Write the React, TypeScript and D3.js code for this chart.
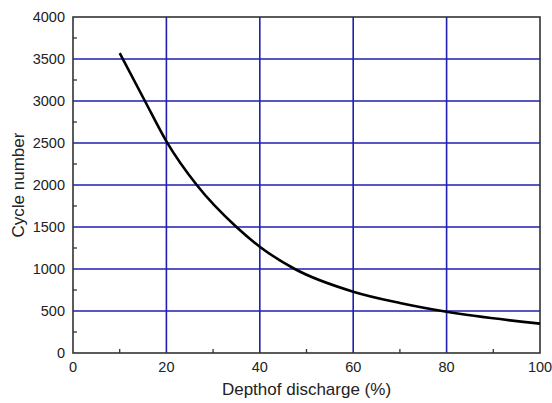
import React from "react";
import * as d3 from "d3";

const dod = [10, 15.4, 20, 26.5, 35, 40, 47.5, 60, 70, 80, 100];
const cycles = [3570, 3000, 2520, 2000, 1500, 1265, 1000, 730, 595, 490, 350];
const xTicks = [0, 20, 40, 60, 80, 100];
const yTicks = [0, 500, 1000, 1500, 2000, 2500, 3000, 3500, 4000];
const xMinor = [10, 30, 50, 70, 90];
const yMinor = [250, 750, 1250, 1750, 2250, 2750, 3250, 3750];

const W = 552, H = 403;
const m = { left: 73, right: 12, top: 17, bottom: 50 };

export default function App() {
  const x = d3.scaleLinear().domain([0, 100]).range([m.left, W - m.right]);
  const y = d3.scaleLinear().domain([0, 4000]).range([H - m.bottom, m.top]);
  const pts = dod.map((d, i) => [d, cycles[i]] as [number, number]);
  const line = d3.line<[number, number]>().x(d => x(d[0])).y(d => y(d[1])).curve(d3.curveMonotoneX);
  const grid = "#1f1fb0";
  const axis = "#333";
  const font = "Liberation Sans, Arial, sans-serif";
  return (
    <svg width={W} height={H} style={{ position: "absolute", left: 0, top: 0, background: "#fff" }} fontFamily={font}>
      {yTicks.filter(t => t > 0 && t < 4000).map(t => (
        <line key={"gy" + t} x1={x(0)} x2={x(100)} y1={y(t)} y2={y(t)} stroke={grid} strokeWidth={1.6} />
      ))}
      {xTicks.filter(t => t > 0 && t < 100).map(t => (
        <line key={"gx" + t} x1={x(t)} x2={x(t)} y1={y(0)} y2={y(4000)} stroke={grid} strokeWidth={1.6} />
      ))}
      {xMinor.map(t => (
        <line key={"mx" + t} x1={x(t)} x2={x(t)} y1={y(0)} y2={y(0) - 4} stroke={axis} strokeWidth={1.3} />
      ))}
      {yMinor.map(t => (
        <line key={"my" + t} x1={x(0)} x2={x(0) + 4} y1={y(t)} y2={y(t)} stroke={axis} strokeWidth={1.3} />
      ))}
      <rect x={x(0)} y={y(4000)} width={x(100) - x(0)} height={y(0) - y(4000)} fill="none" stroke={axis} strokeWidth={1.6} />
      <path d={line(pts) || ""} fill="none" stroke="#000" strokeWidth={2.6} />
      {xTicks.map(t => (
        <text key={"tx" + t} x={x(t)} y={y(0) + 19} textAnchor="middle" fontSize={14.5} fill="#222">{t}</text>
      ))}
      {yTicks.map(t => (
        <text key={"ty" + t} x={x(0) - 8} y={y(t)} dy="0.35em" textAnchor="end" fontSize={14.5} fill="#222">{t}</text>
      ))}
      <text x={(x(0) + x(100)) / 2} y={H - 8} textAnchor="middle" fontSize={17} fill="#222">Depthof discharge (%)</text>
      <text transform={`translate(${18},${(y(0) + y(4000)) / 2}) rotate(-90)`} textAnchor="middle" dy="0.35em" fontSize={17} fill="#222">Cycle number</text>
    </svg>
  );
}
